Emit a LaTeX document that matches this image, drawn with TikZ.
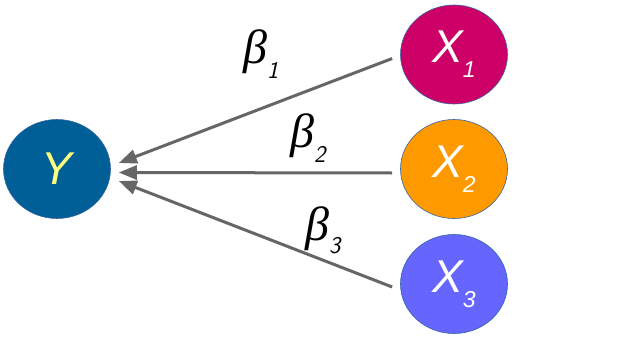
\documentclass[tikz,border=0pt]{standalone}
\usepackage{fontspec}
\setmainfont{Liberation Sans}
\newfontfamily\grk{Liberation Serif}
\usetikzlibrary{shapes.geometric,arrows.meta}
\definecolor{ycol}{HTML}{005F96}
\definecolor{xonecol}{HTML}{CC0066}
\definecolor{xtwocol}{HTML}{FF9900}
\definecolor{xthreecol}{HTML}{6666FF}
\definecolor{edgecol}{HTML}{666666}
\definecolor{rimcol}{HTML}{3465A4}
\definecolor{ytext}{HTML}{FFFF80}
\begin{document}
\begin{tikzpicture}[x=1pt,y=-1pt,
  var/.style={ellipse,draw=rimcol,line width=0.6pt,minimum width=107pt,minimum height=99pt,inner sep=0pt,
    font=\fontsize{46}{46}\selectfont\itshape},
  arr/.style={draw=edgecol,line width=3pt,-{Triangle[length=18pt,width=14pt]}},
  coef/.style={anchor=base west,inner sep=0pt,font=\fontsize{48}{48}\selectfont\grk\itshape}]
\useasboundingbox (0,0) rectangle (635,340);
\newcommand{\vsub}[1]{\raisebox{-15pt}{\fontsize{23}{23}\selectfont\itshape #1}}
\newcommand{\bsub}[2]{\raisebox{#1}{\fontsize{24}{24}\selectfont\sffamily\itshape #2}}
\node[var,fill=ycol,text=ytext] (y) at (57,169) {Y};
\node[var,fill=xonecol,text=white] (x1) at (454,54.5) {X\vsub{1}};
\node[var,fill=xtwocol,text=white] (x2) at (454,169) {X\vsub{2}};
\node[var,fill=xthreecol,text=white] (x3) at (454,284) {X\vsub{3}};
\draw[arr] ([xshift=-8pt,yshift=-4pt]x1.west) -- ([xshift=8pt,yshift=6pt]y.east);
\draw[arr] ([xshift=-8pt,yshift=-4pt]x2.west) -- ([xshift=8pt,yshift=-3.5pt]y.east);
\draw[arr] ([xshift=-8pt,yshift=-3pt]x3.west) -- ([xshift=8pt,yshift=-12pt]y.east);
\node[coef] (b1) at (243,63) {β\bsub{-15pt}{1}};
\node[coef] (b2) at (290,147) {β\bsub{-15pt}{2}};
\node[coef] (b3) at (305,240) {β\bsub{-13pt}{3}};
\end{tikzpicture}
\end{document}
